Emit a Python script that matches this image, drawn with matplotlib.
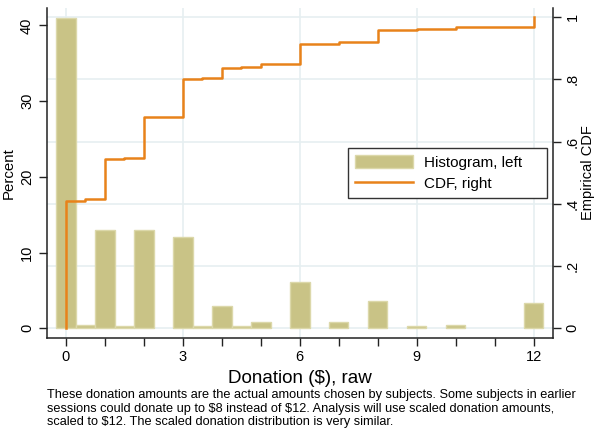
import matplotlib
matplotlib.use("Agg")
import matplotlib.pyplot as plt
from matplotlib.transforms import blended_transform_factory
from matplotlib.ticker import MultipleLocator

plt.rcParams['font.family'] = ['Liberation Sans', 'DejaVu Sans']

# histogram of raw donations (bins of $0.50), percent of subjects
hist_x = [0, 0.5, 1, 1.5, 2, 3, 3.5, 4, 4.5, 5, 6, 7, 8, 9, 10, 12]
hist_pct = [41.0, 0.5, 13.0, 0.25, 13.0, 12.0, 0.25, 3.0, 0.25, 0.85,
            6.1, 0.85, 3.6, 0.25, 0.5, 3.3]

# empirical cdf, stepped at each donation amount
cdf_x = [0, 0, 0.5, 1, 1.5, 2, 3, 3.5, 4, 4.5, 5, 6, 7, 8, 9, 10, 12]
cdf_y = [0, 0.41, 0.415, 0.545, 0.548, 0.68, 0.80, 0.803, 0.835, 0.838,
         0.848, 0.913, 0.921, 0.958, 0.961, 0.968, 1.0]

x_ticks = [0, 3, 6, 9, 12]
left_ticks = [0, 10, 20, 30, 40]
right_ticks = [0, 0.2, 0.4, 0.6, 0.8, 1.0]
right_labels = ['0', '.2', '.4', '.6', '.8', '1']

caption = ("These donation amounts are the actual amounts chosen by subjects. "
           "Some subjects in earlier\n"
           "sessions could donate up to \\$8 instead of \\$12. Analysis will use "
           "scaled donation amounts,\n"
           "scaled to \\$12. The scaled donation distribution is very similar.")

bar_col = '#c9c386'
bar_edge = '#dcd8aa'
line_col = '#e8821a'
grid_col = '#e6eff1'
axis_col = '#222222'

fig = plt.figure(figsize=(5.94, 4.33), dpi=100)
ax = fig.add_axes([0.0783, 0.2194, 0.8527, 0.7621])
ax2 = ax.twinx()

ax.set_xlim(-0.5, 12.5)
ax.set_ylim(-1.28, 42.3)
ax2.set_ylim(-0.031, 1.029)

# grid: vertical at labelled x ticks, horizontal at the cdf ticks
for xv in x_ticks:
    ax.axvline(xv, color=grid_col, lw=1.2, zorder=0)
tr = blended_transform_factory(ax.transAxes, ax2.transData)
for yv in right_ticks:
    ax.plot([0, 1], [yv, yv], color=grid_col, lw=1.2, transform=tr, zorder=0)

bars = ax.bar(hist_x, hist_pct, width=0.5, color=bar_col, edgecolor=bar_edge,
              linewidth=1.0, zorder=2, label='Histogram, left')
line, = ax2.step(cdf_x, cdf_y, where='post', color=line_col, lw=1.8,
                 label='CDF, right')

# spines
for s in ['top', 'right']:
    ax.spines[s].set_visible(False)
for s in ['left', 'bottom']:
    ax.spines[s].set_color(axis_col)
    ax.spines[s].set_linewidth(1.1)
for s in ['top', 'left', 'bottom']:
    ax2.spines[s].set_visible(False)
ax2.spines['right'].set_color(axis_col)
ax2.spines['right'].set_linewidth(1.1)

ax.set_xticks(x_ticks)
ax.xaxis.set_minor_locator(MultipleLocator(1))
ax.tick_params(axis='x', which='both', length=6, width=1, color=axis_col,
               labelsize=10.5, pad=3)
ax.set_yticks(left_ticks)
ax.set_yticklabels([str(v) for v in left_ticks], rotation=90, va='center')
ax.tick_params(axis='y', length=6, width=1, color=axis_col, labelsize=10.5, pad=3)
ax2.set_yticks(right_ticks)
ax2.set_yticklabels(right_labels, rotation=90, va='center')
ax2.tick_params(axis='y', length=6, width=1, color=axis_col, labelsize=10.5, pad=3)

ax.set_xlabel('Donation (\\$), raw', fontsize=13.5, labelpad=4)
ax.set_ylabel('Percent', fontsize=10.8, labelpad=3)
ax2.set_ylabel('Empirical CDF', fontsize=10.5, labelpad=1)

leg = ax2.legend([bars, line], ['Histogram, left', 'CDF, right'],
                 loc='lower left', bbox_to_anchor=(0.595, 0.424, 0.393, 0.15),
                 mode='expand', borderaxespad=0, fontsize=11,
                 handlelength=3.8, handleheight=0.9, borderpad=0.45,
                 labelspacing=0.45, handletextpad=0.7, fancybox=False,
                 framealpha=1)
leg.get_frame().set_edgecolor('#333333')
leg.get_frame().set_linewidth(1.0)

fig.text(0.079, 0.101, caption, fontsize=9.2, va='top', ha='left',
         linespacing=1.17)

fig.savefig('out.png', dpi=100)
